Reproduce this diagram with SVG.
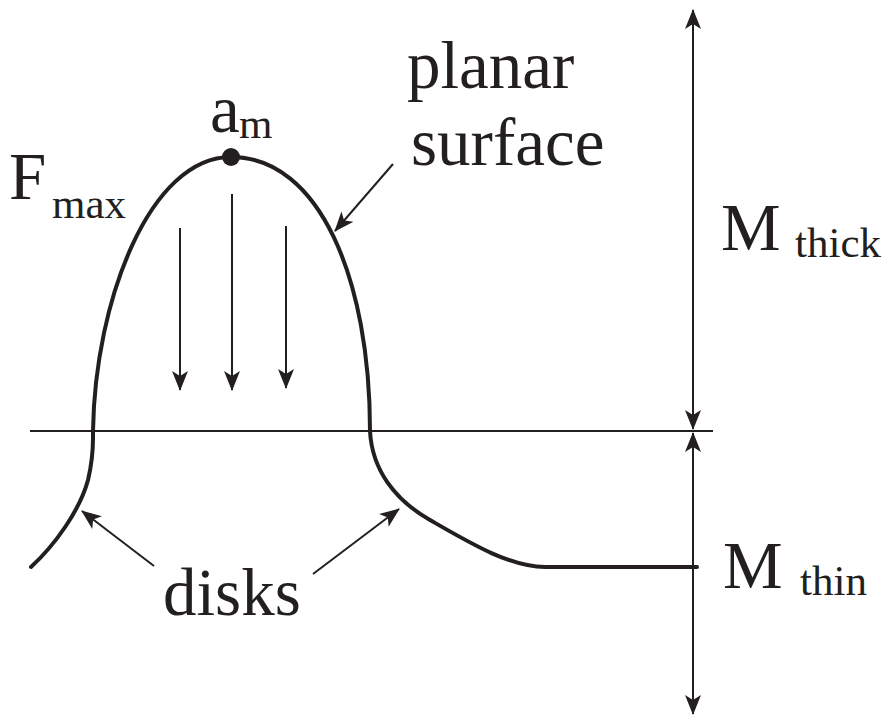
<svg xmlns="http://www.w3.org/2000/svg" width="887" height="717" viewBox="0 0 887 717">
<style>
text{font-family:'Liberation Serif','Tinos','DejaVu Serif','Noto Serif',serif;fill:#231f20}
.big{font-size:67px}
.sub{font-size:43px}
.ln{stroke:#231f20;stroke-width:2;fill:none}
.cv{stroke:#231f20;stroke-width:4;fill:none;stroke-linecap:round}
</style>
<defs>
<marker id="ah" viewBox="0 0 20 20" refX="19" refY="10" markerWidth="20" markerHeight="20" markerUnits="userSpaceOnUse" orient="auto">
<path d="M0,2 L20,10 L0,18 L5,10 Z" fill="#231f20"/>
</marker>
</defs>
<rect width="887" height="717" fill="#fff"/>
<g id="connectors">
<line class="ln" x1="30" y1="431" x2="713" y2="431"/>
<line class="ln" x1="693" y1="60" x2="693" y2="10" marker-end="url(#ah)"/>
<line class="ln" x1="693" y1="60" x2="693" y2="429" marker-end="url(#ah)"/>
<line class="ln" x1="693" y1="500" x2="693" y2="433" marker-end="url(#ah)"/>
<line class="ln" x1="693" y1="500" x2="693" y2="714" marker-end="url(#ah)"/>
<line class="ln" x1="180" y1="228" x2="180" y2="390" marker-end="url(#ah)"/>
<line class="ln" x1="232" y1="194" x2="232" y2="390" marker-end="url(#ah)"/>
<line class="ln" x1="286" y1="226" x2="286" y2="388" marker-end="url(#ah)"/>
<line class="ln" x1="393" y1="164" x2="335" y2="231" marker-end="url(#ah)"/>
<line class="ln" x1="154" y1="566" x2="82" y2="511" marker-end="url(#ah)"/>
<line class="ln" x1="313" y1="574" x2="399" y2="509" marker-end="url(#ah)"/>
</g>
<g id="curve">
<path class="cv" d="M31,567 C55,545 80,510 88,480 C94,455 93,440 93,431 C95,300 150,157 231,157 C320,157 370,280 370,431 C372,470 395,500 430,520 C470,543 510,567 545,567 L697,567"/>
</g>
<g id="am">
<circle cx="231" cy="157" r="9" fill="#231f20"/>
<text class="big" x="210" y="132" font-family="Liberation Serif, serif">a</text>
<text class="sub" x="239" y="138" font-family="Liberation Serif, serif">m</text>
</g>
<g id="fmax">
<text class="big" x="9" y="199">F</text>
<text class="sub" x="52" y="218">max</text>
</g>
<g id="planar">
<text class="big" x="407" y="88">planar</text>
<text class="big" x="411" y="165">surface</text>
</g>
<g id="mthick">
<text class="big" x="721" y="250">M</text>
<text class="sub" x="795" y="257">thick</text>
</g>
<g id="mthin">
<text class="big" x="723" y="588">M</text>
<text class="sub" x="800" y="595">thin</text>
</g>
<g id="disks">
<text class="big" x="163" y="615">disks</text>
</g>
</svg>
